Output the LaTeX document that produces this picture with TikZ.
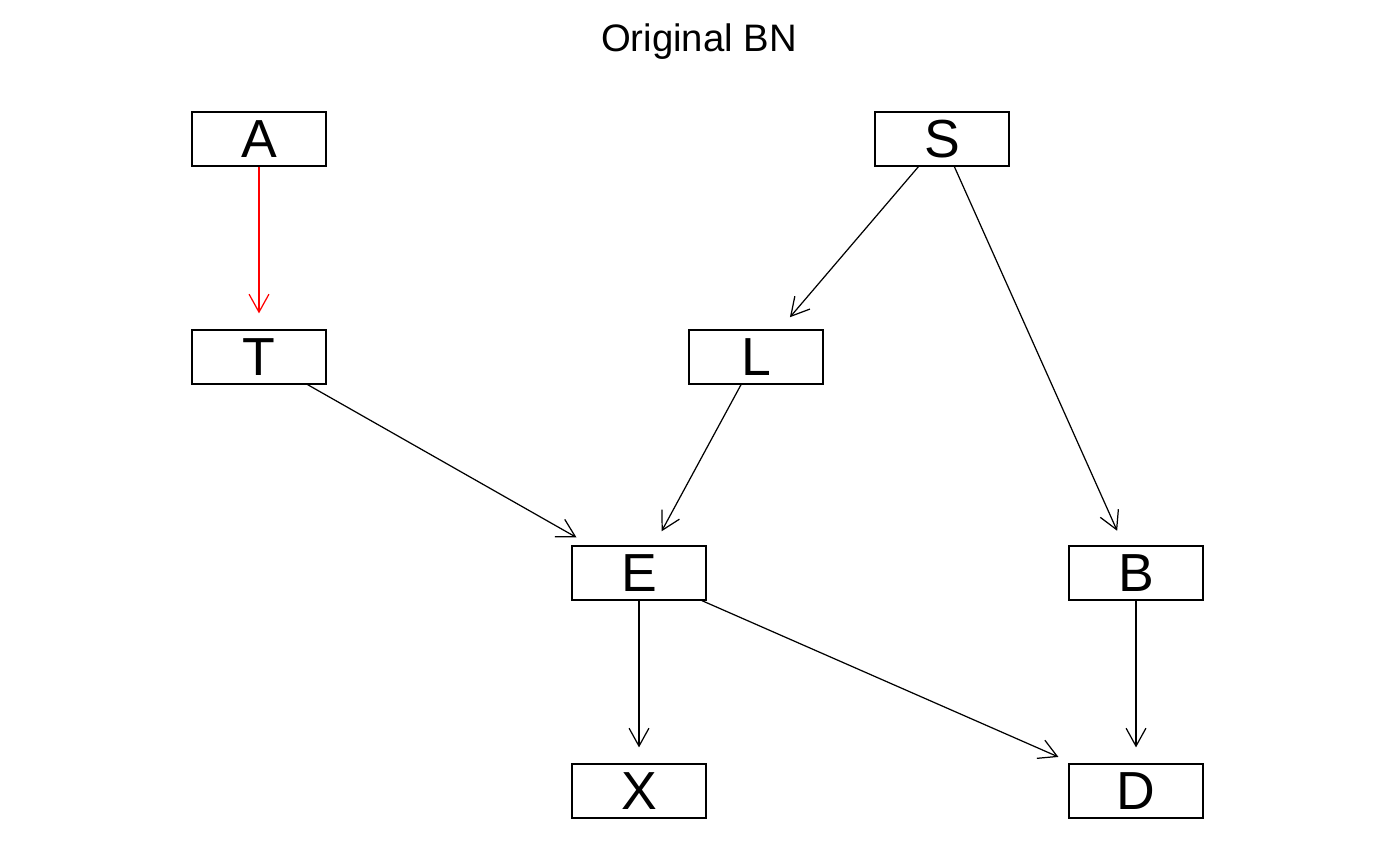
\documentclass[tikz,border=0pt]{standalone}
\usepackage{fontspec}
\setmainfont{Liberation Sans}
\usetikzlibrary{arrows.meta}
\tikzset{
  bnnode/.style={draw, line width=0.7pt, minimum width=2.68cm, minimum height=1.08cm,
    inner sep=0pt, font=\fontsize{30.5}{30.5}\selectfont},
  bnedge/.style={line width=0.7pt, shorten >=0.32cm,
    -{Straight Barb[length=10.2pt, width=11.3pt, line width=0.7pt]}}
}
\begin{document}
\begin{tikzpicture}[x=0.02cm, y=-0.02cm]
\useasboundingbox (0,0) rectangle (1400,865);
\node[font=\fontsize{21.8}{21.8}\selectfont] (title) at (699,42) {Original BN};
\node[bnnode] (A) at (259,139) {A};
\node[bnnode] (S) at (942,139) {S};
\node[bnnode] (T) at (259,357) {T};
\node[bnnode] (L) at (756,357) {L};
\node[bnnode] (E) at (639,573) {E};
\node[bnnode] (B) at (1136,573) {B};
\node[bnnode] (X) at (639,791) {X};
\node[bnnode] (D) at (1136,791) {D};
\draw[bnedge, red] (A)--(T);
\draw[bnedge] (S)--(L);
\draw[bnedge] (S)--(B);
\draw[bnedge] (T)--(E);
\draw[bnedge] (L)--(E);
\draw[bnedge] (E)--(X);
\draw[bnedge] (E)--(D);
\draw[bnedge] (B)--(D);
\end{tikzpicture}
\end{document}
